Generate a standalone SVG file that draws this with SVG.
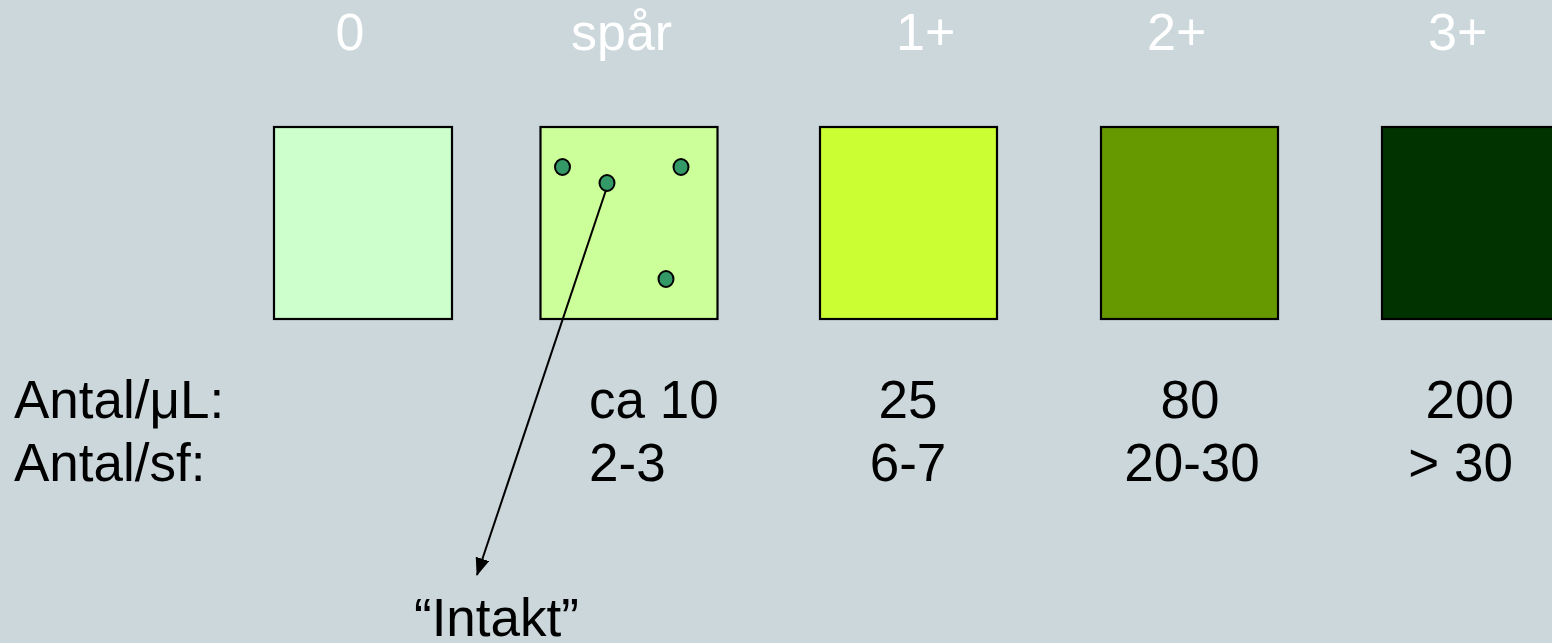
<svg xmlns="http://www.w3.org/2000/svg" width="1552" height="643" viewBox="0 0 1552 643">
<style>
.t{font-family:"Liberation Sans",Arial,sans-serif;font-size:53px;fill:#000}
.w{font-family:"Liberation Sans",Arial,sans-serif;font-size:52px;fill:#fff}
.box{stroke:#000;stroke-width:2.2}
.dot{fill:#339966;stroke:#000;stroke-width:2}
</style>
<defs>
<marker id="arr" viewBox="0 0 18 14" refX="17" refY="7" markerWidth="18" markerHeight="14" markerUnits="userSpaceOnUse" orient="auto">
<path d="M0,0 L18,7 L0,14 z" fill="#000"/>
</marker>
</defs>
<rect width="1552" height="643" fill="#CBD7DB"/>
<g id="labels-top">
<text class="w" x="350" y="50" text-anchor="middle">0</text>
<text class="w" x="571" y="50">spår</text>
<text class="w" x="896" y="50">1+</text>
<text class="w" x="1147" y="50">2+</text>
<text class="w" x="1428" y="50">3+</text>
</g>
<g id="box0"><rect class="box" x="274" y="127" width="178" height="192" fill="#CCFFCC"/></g>
<g id="box-spar">
<rect class="box" x="540.5" y="127" width="177" height="192" fill="#CCFF99"/>
<ellipse class="dot" cx="562.5" cy="167" rx="7.5" ry="8"/>
<ellipse class="dot" cx="607" cy="183" rx="7.5" ry="8"/>
<ellipse class="dot" cx="681" cy="167" rx="7.5" ry="8"/>
<ellipse class="dot" cx="666" cy="279" rx="7.5" ry="8"/>
</g>
<g id="box1"><rect class="box" x="820" y="127" width="177" height="192" fill="#CCFF33"/></g>
<g id="box2"><rect class="box" x="1101" y="127" width="177" height="192" fill="#669900"/></g>
<g id="box3"><rect class="box" x="1382" y="127" width="190" height="192" fill="#003300"/></g>
<g id="connectors">
<line x1="606" y1="190" x2="477" y2="575" stroke="#000" stroke-width="2" marker-end="url(#arr)"/>
</g>
<g id="values">
<text class="t" x="14" y="418">Antal/μL:</text>
<text class="t" x="14" y="481">Antal/sf:</text>
<text class="t" x="589" y="418">ca 10</text>
<text class="t" x="589" y="481">2-3</text>
<text class="t" x="908" y="418" text-anchor="middle">25</text>
<text class="t" x="908" y="481" text-anchor="middle">6-7</text>
<text class="t" x="1190" y="418" text-anchor="middle">80</text>
<text class="t" x="1192" y="481" text-anchor="middle">20-30</text>
<text class="t" x="1514" y="418" text-anchor="end">200</text>
<text class="t" x="1513" y="481" text-anchor="end">&gt; 30</text>
</g>
<g id="intakt"><text class="t" x="414" y="636">“Intakt”</text></g>
</svg>
